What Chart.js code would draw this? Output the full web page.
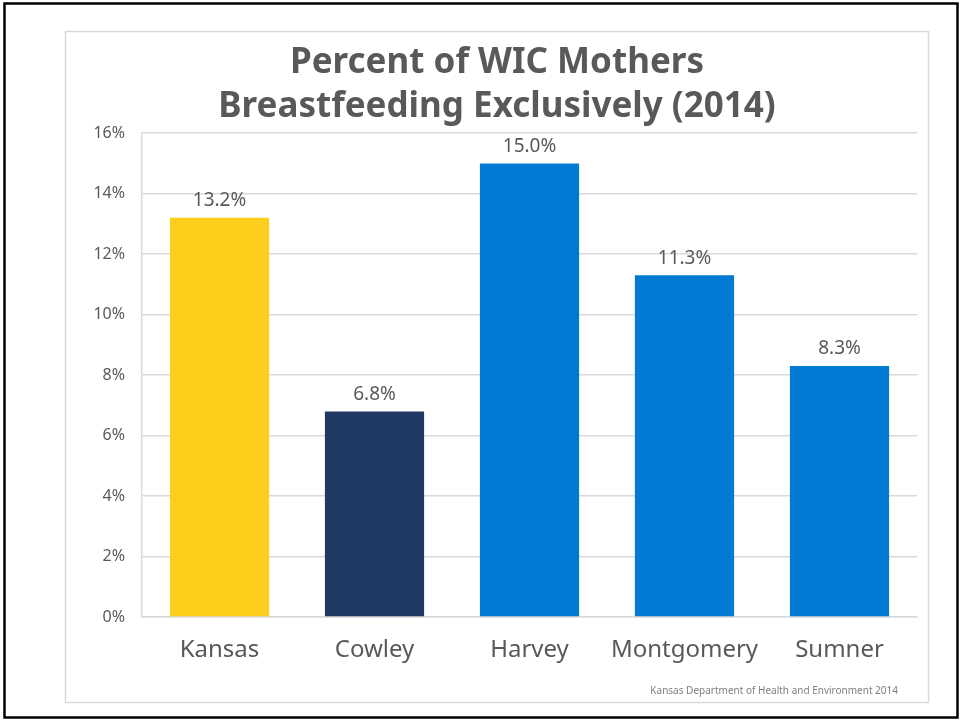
<!DOCTYPE html>
<html>
<head>
<meta charset="utf-8">
<script src="https://cdn.jsdelivr.net/npm/chart.js@4"></script>
<style>
  html, body { margin: 0; padding: 0; background: #fff; }
  #wrap { width: 961px; height: 721px; }
</style>
</head>
<body>
<div id="wrap"><canvas id="chartBar"></canvas></div>
<script>
// data
const counties = ['Kansas', 'Cowley', 'Harvey', 'Montgomery', 'Sumner'];
const percentExclusive = [13.2, 6.8, 15.0, 11.3, 8.3];
const barColors = ['#FDCE1C', '#1F3864', '#007AD2', '#007AD2', '#007AD2'];
const yTicks = [0, 2, 4, 6, 8, 10, 12, 14, 16];
const sourceNote = 'Kansas Department of Health and Environment 2014';

const textGray = '#595959';

// frame + footnote
const frame = {
  id: 'frame',
  beforeDraw(chart) {
    const ctx = chart.ctx;
    ctx.save();
    ctx.fillStyle = '#fff';
    ctx.fillRect(0, 0, chart.width, chart.height);
    ctx.strokeStyle = '#000';
    ctx.lineWidth = 2.5;
    ctx.strokeRect(4.5, 3.5, 953, 714);
    ctx.strokeStyle = '#d9d9d9';
    ctx.lineWidth = 1.5;
    ctx.strokeRect(65.5, 31.5, 863, 671);
    ctx.restore();
  },
  afterDraw(chart) {
    const ctx = chart.ctx;
    ctx.save();
    ctx.font = '10px "Noto Sans"';
    ctx.fillStyle = '#7f7f7f';
    ctx.textAlign = 'right';
    ctx.textBaseline = 'middle';
    ctx.fillText(sourceNote, 898, 691);
    ctx.restore();
  }
};

// value labels above bars
const barValues = {
  id: 'barValues',
  afterDatasetsDraw(chart) {
    const ctx = chart.ctx;
    const meta = chart.getDatasetMeta(0);
    ctx.save();
    ctx.font = '19px "Noto Sans"';
    ctx.fillStyle = textGray;
    ctx.textAlign = 'center';
    ctx.textBaseline = 'middle';
    meta.data.forEach((bar, i) => {
      ctx.fillText(percentExclusive[i].toFixed(1) + '%', bar.x, bar.y - 17);
    });
    ctx.restore();
  }
};

const ctx = document.getElementById('chartBar');
const chartBar = new Chart(ctx, {
  type: 'bar',
  data: {
    labels: counties,
    datasets: [{
      data: percentExclusive,
      backgroundColor: barColors,
      categoryPercentage: 1,
      barPercentage: 0.64
    }]
  },
  options: {
    responsive: true,
    maintainAspectRatio: false,
    animation: false,
    layout: {
      padding: { left: 77, right: 44, top: 0, bottom: 0 }
    },
    plugins: {
      legend: { display: false },
      tooltip: { enabled: false },
      title: {
        display: true,
        text: ['Percent of WIC Mothers', 'Breastfeeding Exclusively (2014)'],
        color: textGray,
        font: { family: '"Noto Sans"', size: 35, weight: 'bold', lineHeight: 1.26 },
        padding: { top: 41, bottom: 4 }
      }
    },
    scales: {
      x: {
        grid: { display: false, drawTicks: false },
        border: { display: true, color: '#d9d9d9', width: 1.5 },
        ticks: {
          color: textGray,
          font: { family: '"Noto Sans"', size: 24 },
          padding: 19
        },
        afterFit(scale) { scale.height = 104; }
      },
      y: {
        min: 0,
        max: 16,
        afterBuildTicks(scale) {
          scale.ticks = yTicks.map(v => ({ value: v }));
        },
        grid: { color: '#d9d9d9', lineWidth: 1.5, drawTicks: false },
        border: { display: true, color: '#d9d9d9', width: 1.5 },
        ticks: {
          color: textGray,
          font: { family: '"Noto Sans"', size: 16 },
          padding: 17,
          callback: v => v + '%'
        },
        afterFit(scale) { scale.width = 65; }
      }
    }
  },
  plugins: [frame, barValues]
});
</script>
</body>
</html>
